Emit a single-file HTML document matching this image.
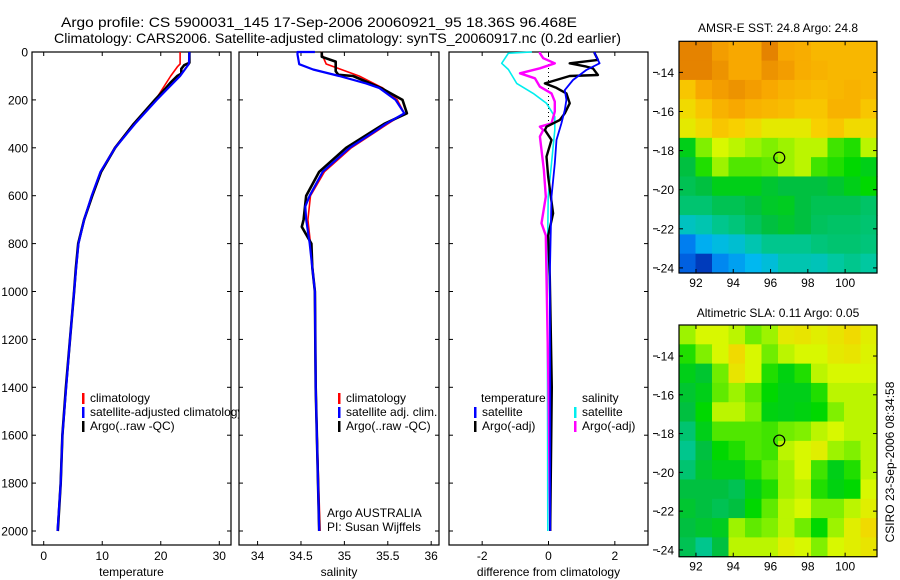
<!DOCTYPE html>
<html><head><meta charset="utf-8">
<style>
html,body{margin:0;padding:0;background:#fff;}
svg{display:block;font-family:"Liberation Sans",sans-serif;}
</style></head>
<body>
<svg id="fig" width="900" height="580" viewBox="0 0 900 580" xmlns="http://www.w3.org/2000/svg">
<text x="61" y="27" font-size="14" textLength="516" lengthAdjust="spacingAndGlyphs">Argo profile: CS 5900031_145 17-Sep-2006 20060921_95 18.36S 96.468E</text>
<text x="54" y="43" font-size="14" textLength="567" lengthAdjust="spacingAndGlyphs">Climatology: CARS2006. Satellite-adjusted climatology: synTS_20060917.nc (0.2d earlier)</text>
<g id="g"></g>
</svg>
<script>
// ---- profile data ----
const tempDepth = [0,50,60,100,150,200,300,400,500,600,700,800,900,1000,1200,1400,1600,1800,2000];
const tempClim = [23.3,23.3,22.9,21.7,20.4,19.1,15.3,12.1,9.7,8.2,6.9,5.95,5.55,5.2,4.5,3.85,3.2,2.9,2.36];
const tempSat = [24.9,24.8,24.5,23.3,21.3,19.3,15.6,12.2,9.7,8.2,6.9,5.95,5.55,5.2,4.5,3.85,3.2,2.9,2.36];
const argoTDepth = [0,45,55,70,90,100,130,150,200,300,400,500,600,700,800,900,1000,1200,1400,1600,1800,2000];
const argoT = [24.9,24.9,24.0,23.5,23.5,22.8,21.6,20.9,19.0,15.4,12.2,9.8,8.3,6.9,5.9,5.5,5.2,4.5,3.8,3.2,2.9,2.4];

const satSalDepth = [0,0,10,51,73,100,131,150,200,256,300,339,400,500,600,645,700,800,1000,1400,2000];
const satSal = [34.66,34.46,34.46,34.48,34.64,34.94,35.25,35.40,35.59,35.69,35.48,35.32,35.06,34.75,34.60,34.55,34.56,34.60,34.66,34.67,34.71];
const climSalDepth = [0,50,100,150,200,256,300,400,500,600,700,800,1000,1400,2000];
const climSal = [34.73,34.79,35.17,35.44,35.61,35.69,35.5,35.08,34.77,34.61,34.58,34.61,34.66,34.67,34.72];
const argoSalDepth = [0,20,40,80,95,100,150,200,256,300,400,500,600,700,730,800,900,1000,1400,2000];
const argoSal = [34.74,34.74,34.9,34.9,34.93,35.1,35.42,35.67,35.72,35.46,35.02,34.71,34.56,34.53,34.51,34.62,34.63,34.66,34.67,34.71];

const dSalSatDepth = [0,5,47,73,131,173,214,270,326,465,604,938,1400,2000];
const dSalSat = [-0.5,-1.21,-1.41,-1.21,-0.96,-0.46,-0.06,0.19,0.19,0.09,-0.01,-0.04,-0.03,-0.02];
const dSalArgoDepth = [0,5,26,47,68,89,110,145,173,207,249,298,312,326,353,409,493,604,715,766,938,1400,2000];
const dSalArgo = [-0.26,-0.26,-0.16,0.19,-0.26,-0.86,-0.41,-0.26,0.09,0.19,0.19,0.09,-0.26,-0.16,-0.26,-0.21,-0.14,-0.08,-0.21,-0.08,-0.06,0.0,0.05];
const dTempSatDepth = [0,5,47,75,117,159,200,242,298,367,465,604,938,1400,2000];
const dTempSat = [1.39,1.39,1.54,1.14,0.74,0.49,0.54,0.49,0.39,0.24,0.19,0.09,0.04,0.05,0.05];
const dTempArgoDepth = [0,5,33,47,61,68,96,100,131,150,173,214,256,284,312,326,367,437,521,674,766,938,1400,2000];
const dTempArgo = [1.39,1.39,1.49,0.64,1.14,1.34,1.49,0.64,-0.11,0.24,0.54,0.64,0.49,0.34,-0.06,-0.11,0.09,-0.06,-0.01,0.14,-0.01,0.04,0.1,0.05];

const depthTicks = [0,200,400,600,800,1000,1200,1400,1600,1800,2000];
const tempTicks = [0,10,20,30];
const salTicks = [34,34.5,35,35.5,36];
const salTickLabels = ["34","34.5","35","35.5","36"];
const diffTicks = [-2,0,2];
const diffTickLabels = ["-2","0","2"];

// ---- map data (normalized colour values) ----
const lonTicks = [92,94,96,98,100];
const latTicks = [14,16,18,20,22,24];
const sstGrid = [
[0.95,0.95,0.9,0.88,0.88,0.95,0.88,0.87,0.85,0.85,0.85,0.85],
[0.95,0.95,0.92,0.88,0.88,0.92,0.9,0.87,0.86,0.85,0.85,0.85],
[0.82,0.88,0.9,0.92,0.9,0.88,0.86,0.85,0.84,0.85,0.86,0.85],
[0.78,0.82,0.86,0.88,0.86,0.85,0.84,0.82,0.82,0.86,0.86,0.82],
[0.75,0.78,0.82,0.8,0.78,0.75,0.75,0.75,0.8,0.82,0.78,0.78],
[0.55,0.66,0.72,0.7,0.68,0.66,0.68,0.7,0.7,0.62,0.6,0.7],
[0.5,0.6,0.68,0.63,0.63,0.64,0.68,0.7,0.62,0.6,0.58,0.55],
[0.48,0.5,0.55,0.55,0.55,0.52,0.5,0.5,0.5,0.52,0.55,0.58],
[0.45,0.45,0.48,0.48,0.5,0.53,0.54,0.5,0.48,0.48,0.48,0.46],
[0.36,0.38,0.42,0.44,0.47,0.5,0.52,0.5,0.47,0.46,0.46,0.45],
[0.18,0.28,0.32,0.34,0.38,0.42,0.42,0.42,0.44,0.45,0.45,0.44],
[0.12,0.05,0.2,0.25,0.3,0.33,0.38,0.38,0.37,0.4,0.42,0.4]];
const slaGrid = [
[0.68,0.72,0.72,0.7,0.65,0.68,0.75,0.76,0.74,0.76,0.78,0.74],
[0.6,0.66,0.72,0.78,0.72,0.65,0.7,0.72,0.72,0.75,0.76,0.73],
[0.55,0.52,0.65,0.76,0.72,0.6,0.56,0.6,0.7,0.72,0.72,0.72],
[0.52,0.55,0.64,0.68,0.64,0.58,0.55,0.55,0.6,0.7,0.7,0.7],
[0.5,0.58,0.7,0.7,0.66,0.56,0.55,0.56,0.58,0.66,0.7,0.7],
[0.45,0.55,0.63,0.63,0.63,0.62,0.65,0.66,0.7,0.72,0.7,0.7],
[0.42,0.5,0.58,0.6,0.63,0.62,0.7,0.72,0.74,0.68,0.66,0.7],
[0.45,0.52,0.55,0.55,0.6,0.64,0.68,0.72,0.62,0.55,0.6,0.7],
[0.5,0.5,0.5,0.48,0.55,0.6,0.68,0.7,0.6,0.56,0.58,0.72],
[0.52,0.5,0.48,0.5,0.58,0.64,0.7,0.72,0.66,0.66,0.7,0.74],
[0.5,0.52,0.54,0.68,0.64,0.66,0.7,0.65,0.58,0.68,0.74,0.78],
[0.48,0.42,0.5,0.7,0.7,0.7,0.74,0.72,0.66,0.72,0.74,0.76]];
const argoLon = 96.468, argoLat = 18.36;

const NS = "http://www.w3.org/2000/svg";
const G = document.getElementById('g');
function mk(tag, attrs, parent){ const e=document.createElementNS(NS,tag); for(const k in attrs) e.setAttribute(k,attrs[k]); (parent||G).appendChild(e); return e; }
function txt(s, x, y, size, anchor, parent){ const t=mk('text',{x:x,y:y,'font-size':size,'text-anchor':anchor||'start'},parent); t.textContent=s; return t; }

// panel geometry
const TOP=52, BOT=545, DMAX=(BOT-TOP)/0.2395;
const yD = d => TOP + d*0.2395;
function panel(name,L,R,xmin,xmax){ return {name,L,R,x:v=>L+(v-xmin)/(xmax-xmin)*(R-L)}; }
const P1 = panel('temperature',32,231,-2,32);
const P2 = panel('salinity',239,439,33.786,36.09);
const P3 = panel('difference',449,648,-3,3);

function frame(P){
  const r = mk('rect',{x:P.L,y:TOP,width:P.R-P.L,height:BOT-TOP,fill:'#fff',stroke:'#000','stroke-width':1.2});
  
  
  depthTicks.forEach(d=>{
    const y=yD(d);
    mk('line',{x1:P.L,x2:P.L+4,y1:y,y2:y,stroke:'#000'});
    mk('line',{x1:P.R-4,x2:P.R,y1:y,y2:y,stroke:'#000'});
  });
}
function xticks(P,ticks,labels,title){
  ticks.forEach((v,i)=>{
    const x=P.x(v);
    mk('line',{x1:x,x2:x,y1:BOT,y2:BOT-4,stroke:'#000'});
    mk('line',{x1:x,x2:x,y1:TOP,y2:TOP+4,stroke:'#000'});
    const t=txt(labels[i],x,560,12,'middle');
    
    
  });
  const t=txt(title,(P.L+P.R)/2,576,12,'middle');
  
  
}
function line(P,depths,vals,color,w,name){
  const pts=depths.map((d,i)=>P.x(vals[i]).toFixed(1)+','+yD(d).toFixed(1)).join(' ');
  const pl=mk('polyline',{points:pts,fill:'none',stroke:color,'stroke-width':w,'stroke-linejoin':'round'});
  
  
}
function legend(x, y, color, label, name){
  mk('rect',{x:x,y:y-9,width:2.5,height:11,fill:color});
  const t=txt(label,x+8,y,12,'start');
  
  
}

// Panel 1
frame(P1);
depthTicks.forEach(d=>{ const t=txt(String(d),28,yD(d)+4.5,12,'end');
  
   });
xticks(P1,tempTicks,tempTicks.map(String),'temperature');
line(P1,tempDepth,tempClim,'#f00',1.6,'temp-climatology-line');
line(P1,argoTDepth,argoT,'#000',2.6,'temp-argo-line');
line(P1,tempDepth,tempSat,'#00f',2.2,'temp-satellite-line');
legend(82,402,'#f00','climatology','legend-climatology');
legend(82,416,'#00f','satellite-adjusted climatology','legend-satellite-adjusted');
legend(82,430,'#000','Argo(..raw -QC)','legend-argo-raw');

// Panel 2
frame(P2);
xticks(P2,salTicks,salTickLabels,'salinity');
line(P2,climSalDepth,climSal,'#f00',1.6,'sal-climatology-line');
line(P2,argoSalDepth,argoSal,'#000',2.6,'sal-argo-line');
line(P2,satSalDepth,satSal,'#00f',2.2,'sal-satellite-line');
legend(338,402,'#f00','climatology','legend-sal-climatology');
legend(338,416,'#00f','satellite adj. clim.','legend-sal-satellite');
legend(338,430,'#000','Argo(..raw -QC)','legend-sal-argo');
let t1=txt('Argo AUSTRALIA',327,517,12,'start');  
let t2=txt('PI: Susan Wijffels',327,531,12,'start');  

// Panel 3
frame(P3);
xticks(P3,diffTicks,diffTickLabels,'difference from climatology');
mk('line',{x1:P3.x(0),x2:P3.x(0),y1:TOP,y2:yD(300),stroke:'#000','stroke-dasharray':'1,3'});
line(P3,dSalSatDepth,dSalSat,'#0ee',1.6,'diff-sal-satellite-line');
line(P3,dSalArgoDepth,dSalArgo,'#f0f',2.4,'diff-sal-argo-line');
line(P3,dTempArgoDepth,dTempArgo,'#000',2.4,'diff-temp-argo-line');
line(P3,dTempSatDepth,dTempSat,'#00f',1.8,'diff-temp-satellite-line');
let th=txt('temperature',481,402,12,'start');  
let sh=txt('salinity',582,402,12,'start');  
legend(474,416,'#00f','satellite','legend-diff-temp-satellite');
legend(474,430,'#000','Argo(-adj)','legend-diff-temp-argo');
legend(574,416,'#0ee','satellite','legend-diff-sal-satellite');
legend(574,430,'#f0f','Argo(-adj)','legend-diff-sal-argo');

// ---- maps ----
const stops=[[0,[0,32,160]],[0.15,[0,112,240]],[0.3,[0,184,240]],[0.4,[0,200,160]],[0.5,[0,192,64]],[0.58,[0,216,0]],[0.66,[128,240,0]],[0.72,[216,248,0]],[0.8,[248,208,0]],[0.88,[248,168,0]],[1,[216,104,0]]];
function cmap(v){
  for(let i=1;i<stops.length;i++){ if(v<=stops[i][0]){ const a=stops[i-1],b=stops[i],f=(v-a[0])/(b[0]-a[0]);
    return 'rgb('+a[1].map((c,k)=>Math.round(c+(b[1][k]-c)*f)).join(',')+')'; } }
  return 'rgb(216,104,0)';
}
function map(name,title,grid,L,R,T,B,lon0,lon1,lat0,lat1,titleY){
  const xL=lo=>L+(lo-lon0)/(lon1-lon0)*(R-L), yL=la=>T+(la-lat0)/(lat1-lat0)*(B-T);
  const rows=grid.length, cols=grid[0].length, cw=(R-L)/cols, ch=(B-T)/rows;
  grid.forEach((row,r)=>row.forEach((v,c)=>{
    const cell=mk('rect',{x:(L+c*cw).toFixed(2),y:(T+r*ch).toFixed(2),width:(cw+0.6).toFixed(2),height:(ch+0.6).toFixed(2),fill:cmap(v)});
    
    
  }));
  const fr=mk('rect',{x:L,y:T,width:R-L,height:B-T,fill:'none',stroke:'#000','stroke-width':1.2});
  
  
  lonTicks.forEach(lo=>{ const x=xL(lo);
    mk('line',{x1:x,x2:x,y1:B,y2:B-4,stroke:'#000'}); mk('line',{x1:x,x2:x,y1:T,y2:T+4,stroke:'#000'});
    const t=txt(String(lo),x,B+14,12,'middle');
    
     });
  latTicks.forEach(la=>{ const y=yL(la);
    mk('line',{x1:L,x2:L+4,y1:y,y2:y,stroke:'#000'}); mk('line',{x1:R-4,x2:R,y1:y,y2:y,stroke:'#000'});
    mk('line',{x1:653,x2:658,y1:y,y2:y,stroke:'#000'});
    const t=txt('-'+la,L-5,y+4.5,12,'end');
    
     });
  const c=mk('circle',{cx:xL(argoLon),cy:yL(argoLat),r:5.5,fill:'none',stroke:'#000','stroke-width':1.2});
  
  
  const t=txt(title,(L+R)/2,titleY,12,'middle');
  
  
}
map('sst-map','AMSR-E SST: 24.8 Argo: 24.8',sstGrid,679,877,41.3,273,91.09,101.71,12.41,24.26,32);
map('sla-map','Altimetric SLA: 0.11 Argo: 0.05',slaGrid,679,877,325,556.7,91.09,101.71,12.4,24.35,317);

const stamp=txt('CSIRO 23-Sep-2006 08:34:58',0,0,12,'middle');
stamp.setAttribute('transform','translate(894,462) rotate(-90)');


</script>
</body></html>
